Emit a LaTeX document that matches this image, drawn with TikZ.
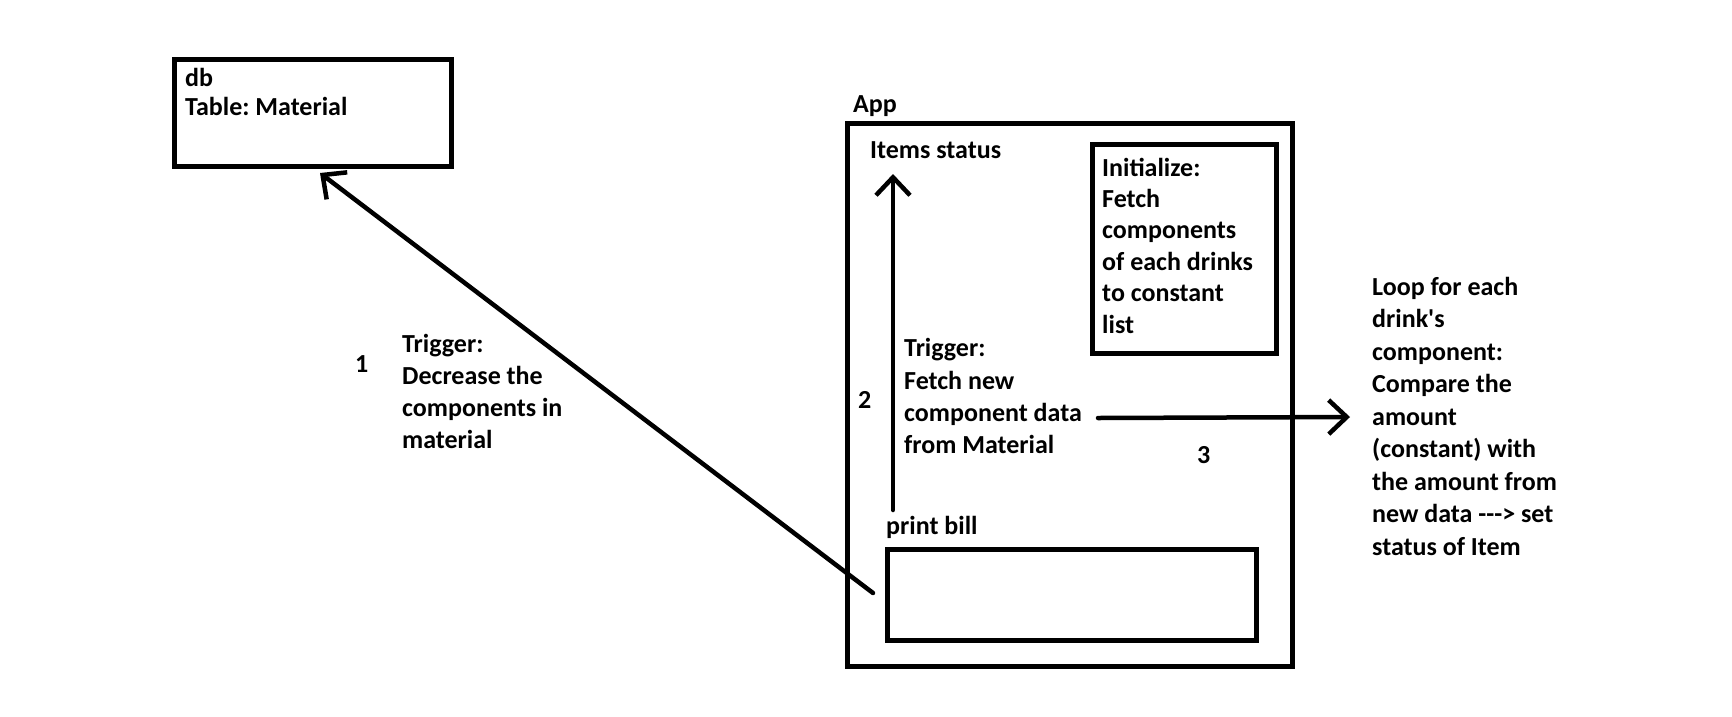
\documentclass[tikz,border=0pt]{standalone}
\usepackage{fontspec}
\setmainfont{Carlito}[Ligatures=TeXOff]
\usetikzlibrary{arrows.meta}
\frenchspacing
\begin{document}
\begin{tikzpicture}[x=1pt,y=-1pt,
  box/.style={draw=black,line width=5pt},
  lbl/.style={anchor=base west,inner sep=0pt,align=left,font=\fontsize{26}{32.2}\selectfont\bfseries},
  conn/.style={draw=black,line width=4.5pt,line cap=round,-{Straight Barb[length=18pt,width=34pt,line width=4.5pt]}}
]
\useasboundingbox[fill=white] (0,0) rectangle (1732,716);
% boxes
\draw[box] (174.5,59.5) rectangle (451.5,166.5);
\draw[box] (847.5,123) rectangle (1292.5,666.5);
\draw[box] (1092.5,144) rectangle (1276.5,353.5);
\draw[box] (887.5,549.5) rectangle (1256.5,640.5);
% texts (anchored at the baseline of the last line)
\node[lbl,font=\fontsize{26}{28.5}\selectfont\bfseries] (db) at (185,115) {db\\Table: Material};
\node[lbl] (app) at (853,112) {App};
\node[lbl] (items) at (870,158) {Items status};
\node[lbl,font=\fontsize{26}{31.4}\selectfont\bfseries] (init) at (1102,333) {Initialize:\\Fetch\\components\\of each drinks\\to constant\\list};
\node[lbl] (trig2) at (904,453.5) {Trigger:\\Fetch new\\component data\\from Material};
\node[lbl] (n2) at (858,408) {2};
\node[lbl] (n3) at (1197,463) {3};
\node[lbl] (bill) at (886,534) {print bill};
\node[lbl] (n1) at (355,372) {1};
\node[lbl] (trig1) at (402,448.6) {Trigger:\\Decrease the\\components in\\material};
\node[lbl,font=\fontsize{26}{32.5}\selectfont\bfseries] (loop) at (1372,555) {Loop for each\\drink's\\component:\\Compare the\\amount\\(constant) with\\the amount from\\new data ---> set\\status of Item};
% connector end points
\coordinate (c1s) at (873,593);
\coordinate (c1e) at (320,173);
\coordinate (c2s) at (893,510);
\coordinate (c2e) at (893,174);
\coordinate (c3s) at (1098,418);
\coordinate (c3e) at (1350,417);
\draw[conn] (c1s) -- (c1e);
\draw[conn] (c2s) -- (c2e);
\draw[conn] (c3s) -- (c3e);
\end{tikzpicture}
\end{document}
